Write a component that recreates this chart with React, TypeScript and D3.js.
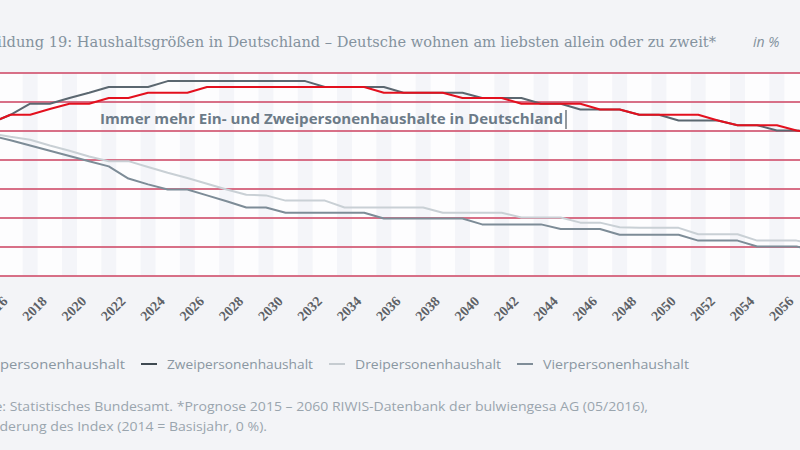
import React from 'react';
import * as d3 from 'd3';

// years of the index series (2014 = base year)
const years = d3.range(2014, 2058);
const tickYears = d3.range(2016, 2058, 2);

const einValues = [0, 1.4, 2.8, 2.8, 3.8, 4.7, 4.7, 5.7, 5.7, 6.6, 6.6, 6.6, 7.6, 7.6, 7.6, 7.6, 7.6, 7.6, 7.6, 7.6, 7.6, 6.6, 6.6, 6.6, 6.6, 5.7, 5.7, 5.7, 4.7, 4.7, 4.7, 4.7, 3.7, 3.7, 2.8, 2.8, 2.8, 2.8, 1.8, 1.0, 1.0, 1.0, 0.1, -0.5];
const zweiValues = [0, 1.4, 2.8, 4.7, 4.7, 5.7, 6.6, 7.6, 7.6, 7.6, 8.6, 8.6, 8.6, 8.6, 8.6, 8.6, 8.6, 8.6, 7.6, 7.6, 7.6, 7.6, 6.6, 6.6, 6.6, 6.6, 5.7, 5.7, 5.7, 4.7, 4.7, 3.7, 3.7, 3.7, 2.8, 2.8, 1.8, 1.8, 1.8, 1.0, 1.0, 0.1, 0.1, -0.2];
const dreiValues = [0, -0.4, -1.0, -1.5, -2.5, -3.4, -4.4, -5.2, -5.2, -6.2, -7.2, -8.1, -9.1, -10.1, -11.0, -11.1, -12.0, -12.0, -12.0, -13.2, -13.2, -13.2, -13.2, -13.2, -14.1, -14.1, -14.1, -14.1, -14.9, -14.9, -14.9, -15.8, -15.8, -16.6, -16.7, -16.7, -16.7, -17.8, -17.8, -17.8, -18.9, -18.9, -18.9, -19.5];
const vierValues = [0, -0.8, -1.6, -2.5, -3.4, -4.3, -5.2, -6.1, -8.2, -9.2, -10.1, -10.1, -11.1, -12.1, -13.2, -13.2, -14.1, -14.1, -14.1, -14.1, -14.1, -15.1, -15.1, -15.1, -15.1, -15.1, -16.1, -16.1, -16.1, -16.1, -16.9, -16.9, -16.9, -17.9, -17.9, -17.9, -17.9, -18.9, -18.9, -18.9, -19.9, -19.9, -19.9, -20.7];

const seriesNames = ['Einpersonenhaushalt', 'Zweipersonenhaushalt', 'Dreipersonenhaushalt', 'Vierpersonenhaushalt'];
const gridValues = [10, 5, 0, -5, -10, -15, -20, -25];

const title = 'Abbildung 19:  Haushaltsgrößen in Deutschland – Deutsche wohnen am liebsten allein oder zu zweit*';
const titleUnit = 'in %';
const annotation = 'Immer mehr Ein- und Zweipersonenhaushalte in Deutschland';
const sourceLine1 = 'Quelle: Statistisches Bundesamt. *Prognose 2015 – 2060 RIWIS-Datenbank der bulwiengesa AG (05/2016),';
const sourceLine2 = 'Veränderung des Index (2014 = Basisjahr, 0 %).';

const W = 800;
const H = 450;

export default function App() {
  const x = d3.scaleLinear().domain([2016, 2056]).range([10.5, 796.5]);
  const y = d3.scaleLinear().domain([-25, 10]).range([276, 73]);

  const series = [
    { name: seriesNames[0], values: einValues, color: '#e3101e', legend: '#e3101e' },
    { name: seriesNames[1], values: zweiValues, color: '#5b6770', legend: '#3f4a52' },
    { name: seriesNames[2], values: dreiValues, color: '#c9d0d5', legend: '#c6ccd1' },
    { name: seriesNames[3], values: vierValues, color: '#7d8c97', legend: '#7f8d98' },
  ];
  // draw order: lightest below, Ein on top
  const drawOrder = [2, 3, 1, 0];

  const line = d3
    .line<number>()
    .x((_, i) => x(years[i]))
    .y(d => y(d));

  const oddYears = years.filter(yr => yr % 2 === 1);
  const step = x(2017) - x(2016);

  return (
    <div style={{ position: 'fixed', left: 0, top: 0 }}>
      <svg width={W} height={H} style={{ display: 'block', background: '#f3f4f7' }}>
        {/* title */}
        <text
          x={-32}
          y={47}
          fontFamily="'DejaVu Serif', serif"
          fontSize={15}
          fill="#84929e"
          textLength={748}
          lengthAdjust="spacingAndGlyphs"
        >
          {title}
        </text>
        <text
          x={753}
          y={47}
          fontFamily="'Open Sans', sans-serif"
          fontStyle="italic"
          fontSize={14}
          fill="#84929e"
        >
          {titleUnit}
        </text>

        {/* plot background with year stripes */}
        <rect x={0} y={y(10)} width={W} height={y(-25) - y(10)} fill="#fdfdfe" />
        {oddYears.map(yr => (
          <rect
            key={yr}
            x={x(yr) - step * 0.38}
            y={y(10)}
            width={step * 0.76}
            height={y(-25) - y(10)}
            fill="#f4f5f9"
          />
        ))}

        {/* grid */}
        {gridValues.map(v => (
          <line
            key={v}
            x1={0}
            x2={W}
            y1={y(v)}
            y2={y(v)}
            stroke="#d4607a"
            strokeWidth={2}
            strokeOpacity={0.9}
          />
        ))}

        {/* series */}
        {drawOrder.map(i => (
          <path
            key={series[i].name}
            d={line(series[i].values) as string}
            fill="none"
            stroke={series[i].color}
            strokeWidth={2}
            strokeLinejoin="round"
          />
        ))}

        {/* annotation */}
        <text
          x={100}
          y={124}
          fontFamily="'Open Sans', sans-serif"
          fontWeight="bold"
          fontSize={14}
          fill="#6c7b88"
          textLength={463}
          lengthAdjust="spacingAndGlyphs"
        >
          {annotation}
        </text>
        <line x1={566} x2={566} y1={110} y2={129} stroke="#4b555d" strokeWidth={1.2} />

        {/* x axis labels */}
        {tickYears.map(yr => (
          <text
            key={yr}
            transform={`translate(${x(yr) - 2},302) rotate(-45)`}
            textAnchor="end"
            fontFamily="'Liberation Serif', serif"
            fontWeight="bold"
            fontSize={14}
            fill="#5d6166"
          >
            {yr}
          </text>
        ))}

        {/* legend */}
        {series.map((s, i) => {
          const tx = -21 + i * 188;
          return (
            <g key={s.name}>
              <line x1={tx - 26} x2={tx - 10} y1={364} y2={364} stroke={s.legend} strokeWidth={2} />
              <text
                x={tx}
                y={368.5}
                fontFamily="'Open Sans', sans-serif"
                fontSize={13}
                fill="#8a97a2"
                textLength={146}
                lengthAdjust="spacingAndGlyphs"
              >
                {s.name}
              </text>
            </g>
          );
        })}

        {/* source */}
        <text
          x={-40}
          y={411}
          fontFamily="'Open Sans', sans-serif"
          fontSize={13.5}
          fill="#9aa5ae"
          textLength={688}
          lengthAdjust="spacingAndGlyphs"
        >
          {sourceLine1}
        </text>
        <text
          x={-39}
          y={431}
          fontFamily="'Open Sans', sans-serif"
          fontSize={13.5}
          fill="#9aa5ae"
          textLength={306}
          lengthAdjust="spacingAndGlyphs"
        >
          {sourceLine2}
        </text>
      </svg>
    </div>
  );
}
